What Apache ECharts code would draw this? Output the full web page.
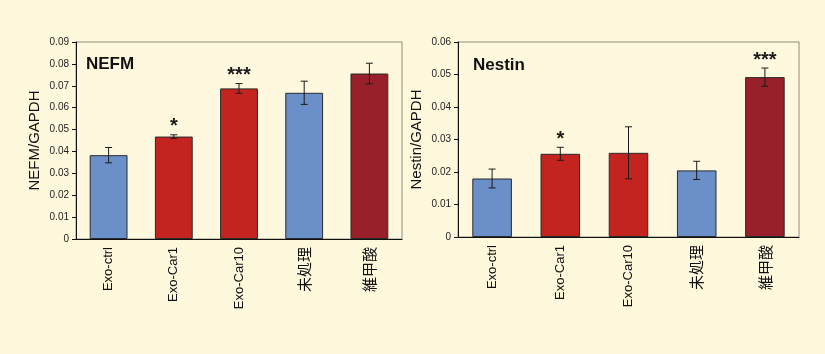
<!DOCTYPE html>
<html>
<head>
<meta charset="utf-8">
<script src="https://cdn.jsdelivr.net/npm/echarts@6/dist/echarts.min.js"></script>
<style>
html,body{margin:0;padding:0;background:#FEF8DC;}
#c{width:825px;height:354px;}
</style>
</head>
<body>
<div id="c"></div>
<script>
var categories = ['Exo-ctrl', 'Exo-Car1', 'Exo-Car10', '未処理', '維甲酸'];
var nefmValues = [0.0383, 0.0468, 0.0688, 0.0668, 0.0756];
var nefmErrors = [0.0035, 0.0008, 0.0022, 0.0053, 0.0047];
var nefmSig = ['', '*', '***', '', ''];
var nestinValues = [0.0180, 0.0256, 0.0259, 0.0205, 0.0492];
var nestinErrors = [0.0029, 0.0020, 0.0080, 0.0028, 0.0028];
var nestinSig = ['', '*', '', '', '***'];
var barColors = ['#6B8FC8', '#C42420', '#C42420', '#6B8FC8', '#97202A'];
var nefmTicks = [0, 0.09, 0.01];
var nestinTicks = [0, 0.06, 0.01];

var FONT = 'Liberation Sans, Arial, "Noto Sans CJK JP", sans-serif';

function barData(vals){
  return vals.map(function(v,i){ return {value:v, itemStyle:{color:barColors[i]}}; });
}
function errData(vals, errs){
  return vals.map(function(v,i){ return [i, v, errs[i]]; });
}
function renderErr(params, api){
  var i = api.value(0), v = api.value(1), e = api.value(2);
  var hi = api.coord([i, v + e]);
  var lo = api.coord([i, v - e]);
  var cap = 3.5;
  var st = {stroke:'#1a1a1a', lineWidth:1};
  var children = [
    {type:'line', shape:{x1:hi[0], y1:hi[1], x2:lo[0], y2:lo[1]}, style:st},
    {type:'line', shape:{x1:hi[0]-cap, y1:hi[1], x2:hi[0]+cap, y2:hi[1]}, style:st},
    {type:'line', shape:{x1:lo[0]-cap, y1:lo[1], x2:lo[0]+cap, y2:lo[1]}, style:st}
  ];
  var s = params.seriesIndex === 1 ? nefmSig[params.dataIndex] : nestinSig[params.dataIndex];
  if (s) {
    children.push({type:'text', style:{text:s, x:hi[0], y:hi[1]+2, align:'center', verticalAlign:'bottom',
      font:'bold 20px ' + FONT, fill:'#1a1a1a'}});
  }
  return {type:'group', children:children};
}

function yAxis(gi, ticks, name){
  return {
    type:'value', gridIndex:gi, min:ticks[0], max:ticks[1], interval:ticks[2],
    name:name, nameLocation:'middle', nameGap:34, nameRotate:90,
    nameTextStyle:{fontFamily:FONT, fontSize:15, color:'#111'},
    axisLine:{show:true, lineStyle:{color:'#111', width:1}},
    axisTick:{show:true, length:4, inside:false, lineStyle:{color:'#111'}},
    axisLabel:{fontFamily:FONT, fontSize:10, color:'#222', margin:7,
      formatter:function(v){ return v===0 ? '0' : v.toFixed(2); }},
    splitLine:{show:false}
  };
}
function xAxis(gi){
  return {
    type:'category', gridIndex:gi, data:categories,
    axisLine:{show:true, lineStyle:{color:'#111', width:1}},
    axisTick:{show:false},
    axisLabel:{rotate:90, fontFamily:FONT, fontSize:13, color:'#111', margin:8, interval:0,
      formatter:function(v){ return /^[\x00-\x7F]*$/.test(v) ? v : '{cjk|' + v + '}'; },
      rich:{cjk:{fontFamily:'"Noto Sans CJK JP", sans-serif', fontSize:15, color:'#111'}}}
  };
}

var chart = echarts.init(document.getElementById('c'), null, {renderer:'canvas'});
chart.setOption({
  backgroundColor:'#FEF8DC',
  animation:false,
  title:[
    {text:'NEFM', left:81, top:51, textStyle:{fontFamily:FONT, fontSize:17, fontWeight:'bold', color:'#111'}},
    {text:'Nestin', left:468, top:52, textStyle:{fontFamily:FONT, fontSize:17, fontWeight:'bold', color:'#111'}}
  ],
  grid:[
    {left:76, top:42, width:326, height:197, show:true, borderColor:'#8E8B78', borderWidth:1, backgroundColor:'#FEF9DE'},
    {left:458, top:42, width:341, height:195, show:true, borderColor:'#8E8B78', borderWidth:1, backgroundColor:'#FEF9DE'}
  ],
  xAxis:[xAxis(0), xAxis(1)],
  yAxis:[yAxis(0, nefmTicks, 'NEFM/GAPDH'), yAxis(1, nestinTicks, 'Nestin/GAPDH')],
  series:[
    {type:'bar', xAxisIndex:0, yAxisIndex:0, data:barData(nefmValues), barWidth:'58%',
      itemStyle:{borderColor:'#2a2a2a', borderWidth:1}},
    {type:'custom', xAxisIndex:0, yAxisIndex:0, data:errData(nefmValues, nefmErrors),
      renderItem:renderErr, z:5},
    {type:'bar', xAxisIndex:1, yAxisIndex:1, data:barData(nestinValues), barWidth:'58%',
      itemStyle:{borderColor:'#2a2a2a', borderWidth:1}},
    {type:'custom', xAxisIndex:1, yAxisIndex:1, data:errData(nestinValues, nestinErrors),
      renderItem:renderErr, z:5}
  ]
});
</script>
</body>
</html>
